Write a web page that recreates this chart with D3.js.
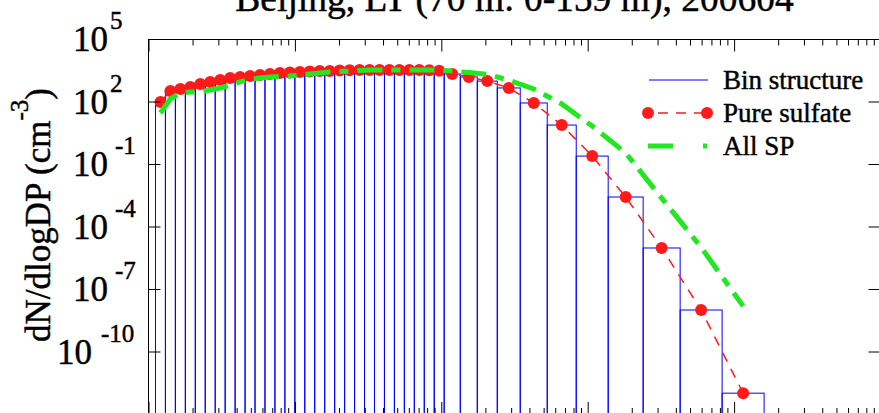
<!DOCTYPE html>
<html>
<head>
<meta charset="utf-8">
<script src="https://cdnjs.cloudflare.com/ajax/libs/d3/7.8.5/d3.min.js"></script>
<style>
  body { margin: 0; background: #fff; }
  svg { display: block; }
  svg text { font-family: "Liberation Serif", "DejaVu Serif", serif; fill: #000; stroke: #000; stroke-width: 0.45px; }
</style>
</head>
<body>
<svg id="chart" width="879" height="413"></svg>
<script>
// bin edges, particle diameter (um)
const binEdges = [0.001116, 0.001305, 0.001526, 0.001785, 0.002088, 0.002441, 0.002855,
    0.003339, 0.003905, 0.004567, 0.005341, 0.006246, 0.007305, 0.008543, 0.009991,
    0.01168, 0.01366, 0.01598, 0.01869, 0.02186, 0.02556, 0.02989, 0.03496, 0.04089,
    0.04782, 0.05592, 0.06540, 0.07649, 0.08945, 0.1046, 0.1348, 0.1761, 0.2412,
    0.3461, 0.5292, 0.8348, 1.380, 2.392, 4.280, 8.281, 16.03];

// dN/dlogDP (cm-3) per bin
const pureSulfate = [95, 320, 400, 500, 690, 870, 1070, 1350, 1510, 1660,
    1860, 2090, 2340, 2450, 2630, 2750, 2880, 2880, 3090, 3200,
    3240, 3240, 3280, 3280, 3280, 3240, 3240, 3200, 3020, 2090,
    1510, 955, 447, 85, 7.4, 0.24, 2.6e-3, 9.3e-6, 9.8e-9, 1.0e-12];

const allSP = [28, 132, 257, 288, 288, 355, 447, 617, 871, 1150,
    1350, 1510, 1580, 1660, 1860, 2090, 2340, 2630, 2750, 2880,
    3090, 3240, 3240, 3240, 3240, 3240, 3240, 3240, 3240, 2880,
    2450, 2000, 1070, 400, 76, 6.6, 0.34, 2.3e-3, 1.0e-5, 1.5e-8];

const yTickExps = [5, 2, -1, -4, -7, -10, -13];
const legendLabels = ["Bin structure", "Pure sulfate", "All SP"];
const titleText = "Beijing, LT (70 m: 0-159 m), 200604";

const svg = d3.select("#chart");
const pLeft = 148.5, pRight = 880.5, pTop = 39, pBottom = 414;

const x = d3.scaleLog().domain([1e-3, 1e2]).range([pLeft, pRight]);
const y = d3.scaleLog().domain([1e-13, 1e5]).range([pBottom, pTop]);

let bins = pureSulfate.map((v, i) => ({
    x0: binEdges[i],
    x1: binEdges[i + 1],
    xc: Math.sqrt(binEdges[i] * binEdges[i + 1]),
    v: v,
    sp: allSP[i]
}));

// bin structure
svg.append("g").selectAll("rect").data(bins).join("rect")
    .attr("x", d => x(d.x0))
    .attr("width", d => x(d.x1) - x(d.x0))
    .attr("y", d => y(d.v))
    .attr("height", d => pBottom + 5 - y(d.v))
    .attr("fill", "none")
    .attr("stroke", "#0000ff")
    .attr("stroke-width", 1);

// pure sulfate
let redLine = d3.line().x(d => x(d.xc)).y(d => y(d.v));
svg.append("path").datum(bins)
    .attr("d", redLine)
    .attr("fill", "none")
    .attr("stroke", "#ff1a1a")
    .attr("stroke-width", 1.5)
    .attr("stroke-dasharray", "10,8");
svg.append("g").selectAll("circle").data(bins).join("circle")
    .attr("cx", d => x(d.xc))
    .attr("cy", d => y(d.v))
    .attr("r", 6)
    .attr("fill", "#ff1a1a");

// all SP
let greenLine = d3.line().x(d => x(d.xc)).y(d => y(d.sp));
svg.append("path").datum(bins)
    .attr("d", greenLine)
    .attr("fill", "none")
    .attr("stroke", "#22e622")
    .attr("stroke-width", 5)
    .attr("stroke-dasharray", "25,9,9,9");

// frame
svg.append("rect")
    .attr("x", pLeft).attr("y", pTop + 0.5)
    .attr("width", pRight - pLeft).attr("height", pBottom - pTop)
    .attr("fill", "none").attr("stroke", "#000").attr("stroke-width", 1);

// axes ticks
const xTicks = x.ticks();
const isMajor = v => Math.abs(Math.log10(v) - Math.round(Math.log10(v))) < 1e-6;
const xMajor = xTicks.filter(isMajor);
const xMinor = xTicks.filter(v => !isMajor(v));

function tickAxis(axis, values, size, tx, ty) {
    let g = svg.append("g")
        .attr("transform", `translate(${tx},${ty})`)
        .call(axis.tickValues(values).tickSize(size).tickSizeOuter(0).tickFormat(""));
    g.select(".domain").remove();
    g.selectAll("line").attr("stroke", "#000");
}
tickAxis(d3.axisBottom(x), xMajor, 12, 0, pTop + 0.5);
tickAxis(d3.axisBottom(x), xMinor, 6, 0, pTop + 0.5);
tickAxis(d3.axisTop(x), xMajor, 12, 0, pBottom);
tickAxis(d3.axisTop(x), xMinor, 6, 0, pBottom);
const yVals = yTickExps.map(e => Math.pow(10, e));
tickAxis(d3.axisRight(y), yVals, 12, pLeft, 0);
tickAxis(d3.axisLeft(y), yVals, 12, pRight, 0);

// y tick labels
let yl = svg.append("g").selectAll("g").data(yTickExps.filter(e => e > -13)).join("g");
yl.append("text")
    .attr("x", e => e <= -10 ? 92 : 108)
    .attr("y", e => y(Math.pow(10, e)) + 12)
    .attr("text-anchor", "end")
    .attr("font-size", 35)
    .text("10");
yl.append("text")
    .attr("x", e => e >= 0 ? 110 : (e <= -10 ? 101 : 115))
    .attr("y", e => y(Math.pow(10, e)) - 10)
    .attr("font-size", 25)
    .text(e => String(e));

// y axis title
let ylab = svg.append("text")
    .attr("transform", "translate(50,215) rotate(-90)")
    .attr("text-anchor", "middle")
    .attr("font-size", 35);
ylab.append("tspan").text("dN/dlogDP (cm");
ylab.append("tspan").attr("dy", -22).attr("font-size", 25).text("-3");
ylab.append("tspan").attr("dy", 22).text(")");

// title (top cut off like in the source figure)
svg.append("text")
    .attr("x", (pLeft + pRight) / 2)
    .attr("y", 11)
    .attr("text-anchor", "middle")
    .attr("font-size", 37.5)
    .text(titleText);

// legend
const legY = [80, 113, 146];
let leg = svg.append("g");
leg.append("line").attr("x1", 649).attr("x2", 708).attr("y1", legY[0]).attr("y2", legY[0])
    .attr("stroke", "#0000ff").attr("stroke-width", 1);
leg.append("line").attr("x1", 648).attr("x2", 707).attr("y1", legY[1]).attr("y2", legY[1])
    .attr("stroke", "#ff1a1a").attr("stroke-width", 1.5).attr("stroke-dasharray", "10,8")
    .attr("stroke-dashoffset", -10);
leg.selectAll("circle").data([648, 707]).join("circle")
    .attr("cx", d => d).attr("cy", legY[1]).attr("r", 6).attr("fill", "#ff1a1a");
leg.append("line").attr("x1", 648).attr("x2", 707).attr("y1", legY[2]).attr("y2", legY[2])
    .attr("stroke", "#22e622").attr("stroke-width", 5).attr("stroke-dasharray", "25,30,5");
leg.selectAll("text").data(legendLabels).join("text")
    .attr("x", 723)
    .attr("y", (d, i) => legY[i] + 9)
    .attr("font-size", 27)
    .text(d => d);
</script>
</body>
</html>
